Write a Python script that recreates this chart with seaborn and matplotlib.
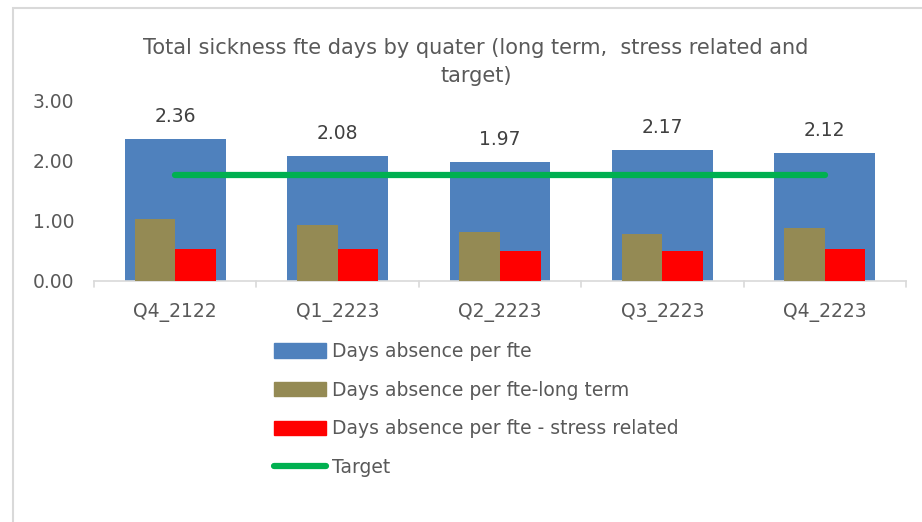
import numpy as np
import pandas as pd
import matplotlib
matplotlib.use("Agg")
import matplotlib.pyplot as plt
import seaborn as sns
from matplotlib.patches import Patch, Rectangle
from matplotlib.lines import Line2D

# ========================
# DATA
# ========================
quarters = ["Q4_2122", "Q1_2223", "Q2_2223", "Q3_2223", "Q4_2223"]
days_per_fte = [2.36, 2.08, 1.97, 2.17, 2.12]
long_term = [1.02, 0.92, 0.82, 0.78, 0.88]
stress_related = [0.53, 0.53, 0.50, 0.50, 0.53]
target = [1.75, 1.75, 1.75, 1.75, 1.75]

series_names = ["Days absence per fte",
                "Days absence per fte-long term",
                "Days absence per fte - stress related",
                "Target"]
colors = ["#4F81BD", "#948A54", "#FF0000", "#00B050"]

# ========================
# STYLE
# ========================
sns.set_style("white")
plt.rcParams['font.family'] = ['DejaVu Sans']
text_col = "#595959"

fig = plt.figure(figsize=(9.22, 5.22), dpi=100)
ax = fig.add_axes([94 / 922, 1 - 281 / 522, 812 / 922, 181 / 522])

# frame round the chart area (like the Excel chart border), runs off right/bottom
fig.patches.append(Rectangle((13 / 922, -0.1), 1.2, 1.1 - 8 / 522,
                             transform=fig.transFigure, fill=False,
                             edgecolor="#D9D9D9", linewidth=1.5, zorder=0))

# ========================
# BARS
# ========================
total_df = pd.DataFrame({"quarter": quarters, "value": days_per_fte})
sns.barplot(data=total_df, x="quarter", y="value", color=colors[0],
            width=0.62, saturation=1, linewidth=0, ax=ax, zorder=2)

split_df = pd.DataFrame({
    "quarter": quarters * 2,
    "value": long_term + stress_related,
    "kind": [series_names[1]] * 5 + [series_names[2]] * 5,
})
sns.barplot(data=split_df, x="quarter", y="value", hue="kind",
            palette=colors[1:3], width=0.5, saturation=1, linewidth=0,
            ax=ax, legend=False, zorder=3)

sns.lineplot(x=np.arange(len(quarters)), y=target, color=colors[3],
             linewidth=4.5, solid_capstyle="round", ax=ax, zorder=4)

# data labels on the total bars
for i, v in enumerate(days_per_fte):
    ax.text(i, v + 0.37, f"{v:.2f}", ha="center", va="center",
            fontsize=13.5, color="#404040")

# ========================
# AXES
# ========================
ax.set_xlim(-0.5, 4.5)
ax.set_ylim(0, 3)
ax.set_yticks([0, 1, 2, 3])
ax.set_yticklabels([f"{t:.2f}" for t in [0, 1, 2, 3]])
ax.set_xticks(range(len(quarters)))
ax.set_xticklabels(quarters)
ax.set_xlabel("")
ax.set_ylabel("")
for side in ["top", "right", "left"]:
    ax.spines[side].set_visible(False)
ax.spines["bottom"].set_color("#D9D9D9")
ax.spines["bottom"].set_linewidth(1.2)
ax.tick_params(axis="y", length=0, labelsize=13.5, labelcolor=text_col, pad=14)
ax.tick_params(axis="x", length=0, labelsize=13.5, labelcolor=text_col, pad=16)
# category boundary ticks
for b in np.arange(-0.5, 5, 1):
    ax.plot([b, b], [0, -0.1], color="#D9D9D9", lw=1.2, clip_on=False)

fig.text(476 / 922, 1 - 62 / 522,
         "Total sickness fte days by quater (long term,  stress related and\ntarget)",
         ha="center", va="center", fontsize=15, color=text_col, linespacing=1.5)

# ========================
# LEGEND
# ========================
handles = [Patch(color=c) for c in colors[:3]]
handles.append(Line2D([0], [0], color=colors[3], lw=4.5, solid_capstyle="round"))
fig.legend(handles, series_names, loc="upper left",
           bbox_to_anchor=(257 / 922, 1 - 325 / 522), frameon=False,
           fontsize=13.5, labelcolor=text_col, handlelength=2.8,
           handleheight=0.8, handletextpad=0.3, labelspacing=1.05)

fig.savefig("out.png", dpi=100)
